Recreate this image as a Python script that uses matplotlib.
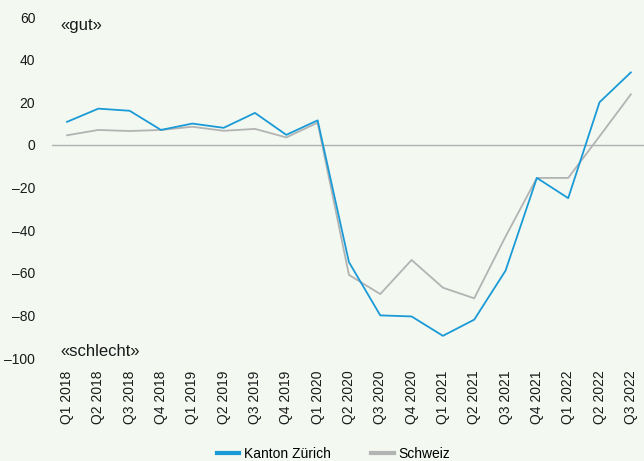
import matplotlib.pyplot as plt
from matplotlib.lines import Line2D

plt.rcParams['font.family'] = ['Liberation Sans', 'DejaVu Sans']

# Quarters and index values
quarters = ["Q1 2018", "Q2 2018", "Q3 2018", "Q4 2018",
            "Q1 2019", "Q2 2019", "Q3 2019", "Q4 2019",
            "Q1 2020", "Q2 2020", "Q3 2020", "Q4 2020",
            "Q1 2021", "Q2 2021", "Q3 2021", "Q4 2021",
            "Q1 2022", "Q2 2022", "Q3 2022"]
zuerich = [10.8, 17, 16, 7, 10, 8, 15, 4.7, 11.5,
           -55, -80, -80.5, -89.6, -82, -59, -15.5, -25, 20, 34]
schweiz = [4.5, 7, 6.5, 7, 8.5, 6.6, 7.5, 3.5, 10.4,
           -61, -70, -54, -67, -72, -43, -15.5, -15.5, 4, 23.7]
yticks = [60, 40, 20, 0, -20, -40, -60, -80, -100]

bg = '#f3f8f1'
blue = '#1a9ad6'
grey = '#b3b3b3'

fig = plt.figure(figsize=(6.44, 4.61), dpi=100, facecolor=bg)
ax = fig.add_axes([52 / 644, 1 - 358 / 461, 1 - 52 / 644, (358 - 17) / 461])
ax.set_facecolor(bg)

x = list(range(len(quarters)))
ax.axhline(0, color='#b0b0b0', lw=1, zorder=1)
ax.plot(x, zuerich, color=blue, lw=1.3, zorder=3)
ax.plot(x, schweiz, color=grey, lw=1.3, zorder=2)

ax.set_xlim(-0.48, 18.42)
ax.set_ylim(-100, 60)
ax.set_yticks(yticks)
ax.set_yticklabels([str(v).replace('-', '\u2013') for v in yticks])
ax.set_xticks(x)
ax.set_xticklabels(quarters, rotation=90)
ax.tick_params(axis='both', length=0, labelsize=10, colors='#1a1a1a')
ax.tick_params(axis='y', pad=12)
ax.tick_params(axis='x', pad=9)
for s in ax.spines.values():
    s.set_visible(False)

ax.text(-0.2, 56, '«gut»', fontsize=12, va='center', ha='left', color='#1a1a1a')
ax.text(-0.2, -97, '«schlecht»', fontsize=12, va='center', ha='left', color='#1a1a1a')

handles = [Line2D([], [], color=blue, lw=3), Line2D([], [], color=grey, lw=3)]
fig.legend(handles, ['Kanton Zürich', 'Schweiz'], loc='center',
           bbox_to_anchor=(0.518, 0.016), ncol=2, frameon=False,
           fontsize=10, handlelength=1.6, handletextpad=0.35, columnspacing=2.9)

fig.savefig('out.png', dpi=100, facecolor=bg)
